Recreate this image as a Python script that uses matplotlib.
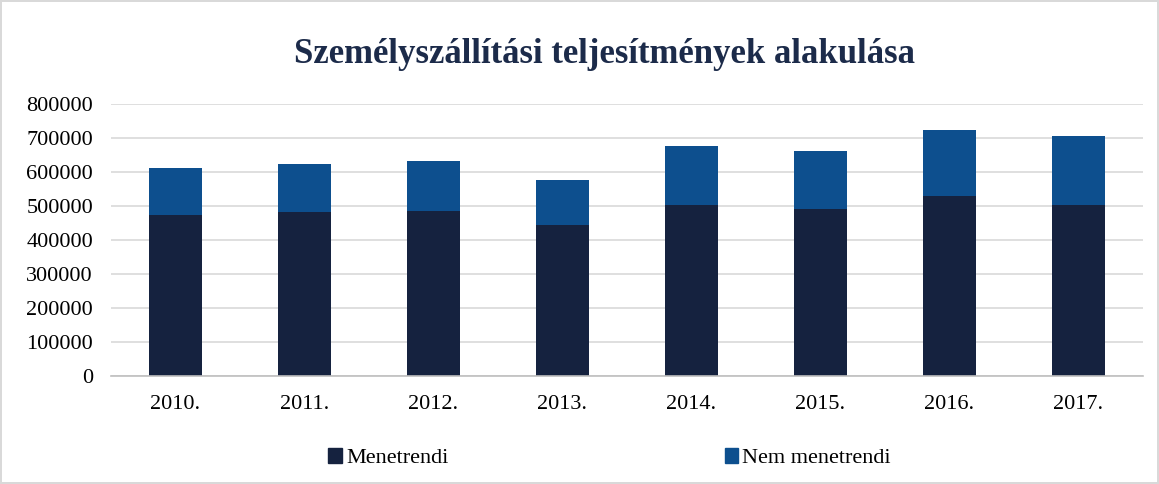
import matplotlib
matplotlib.use("Agg")
import matplotlib.pyplot as plt
import numpy as np

years = ["2010.", "2011.", "2012.", "2013.", "2014.", "2015.", "2016.", "2017."]
menetrendi = [473000, 483000, 485000, 443000, 503000, 490000, 529000, 503000]
nem_menetrendi = [139000, 142000, 147000, 134000, 174000, 171000, 195000, 202000]
yticks = [0, 100000, 200000, 300000, 400000, 500000, 600000, 700000, 800000]

plt.rcParams['font.family'] = ['Liberation Serif', 'DejaVu Serif']

fig = plt.figure(figsize=(11.59, 4.84), dpi=100)
fig.patch.set_facecolor('white')
fig.patch.set_edgecolor('#d9d9d9')
fig.patch.set_linewidth(1.5)
ax = fig.add_axes([0.0958, 0.2231, 0.8902, 0.5619])

x = np.arange(len(years))
dark = '#15223f'
blue = '#0d4f8e'
ax.bar(x, menetrendi, width=0.41, color=dark, label='Menetrendi', zorder=3)
ax.bar(x, nem_menetrendi, width=0.41, bottom=menetrendi, color=blue,
       label='Nem menetrendi', zorder=3)

ax.set_xlim(-0.5, len(years) - 0.5)
ax.set_ylim(0, 800000)
ax.set_yticks(yticks)
ax.set_yticklabels([str(v) for v in yticks], fontsize=16)
ax.set_xticks(x)
ax.set_xticklabels(years, fontsize=16)
ax.tick_params(axis='y', length=0, pad=13)
ax.tick_params(axis='x', length=0, pad=14)
ax.grid(axis='y', color='#d9d9d9', linewidth=1.2, zorder=0)
for s in ['top', 'right', 'left']:
    ax.spines[s].set_visible(False)
ax.spines['bottom'].set_color('#bfbfbf')
ax.spines['bottom'].set_linewidth(1.2)
ax.spines['bottom'].set_zorder(4)

fig.text(0.522, 0.888, 'Személyszállítási teljesítmények alakulása', ha='center',
         va='center', fontsize=25, fontweight='bold', color='#1c2b4a')

h1 = plt.Rectangle((0, 0), 1, 1, color=dark)
h2 = plt.Rectangle((0, 0), 1, 1, color=blue)
fig.legend([h1], ['Menetrendi'], loc='center', bbox_to_anchor=(0.335, 0.053),
           frameon=False, fontsize=16, handlelength=0.6, handleheight=0.6,
           handletextpad=0.2)
fig.legend([h2], ['Nem menetrendi'], loc='center', bbox_to_anchor=(0.697, 0.053),
           frameon=False, fontsize=16, handlelength=0.6, handleheight=0.6,
           handletextpad=0.2)

fig.savefig('out.png', dpi=100)
